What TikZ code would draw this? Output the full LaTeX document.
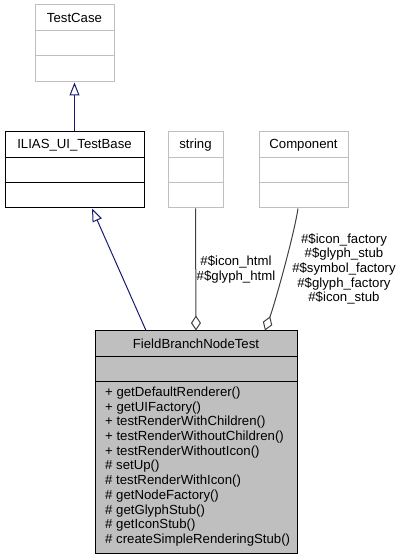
\documentclass[tikz,border=0pt]{standalone}
\usepackage{fontspec}
\setmainfont{Liberation Sans}
\usetikzlibrary{arrows.meta,calc}
\definecolor{lightframe}{HTML}{BFBFBF}
\definecolor{boxfill}{HTML}{BFBFBF}
\definecolor{inherit}{HTML}{191970}
\definecolor{usage}{HTML}{404040}
\begin{document}
\begin{tikzpicture}[x=1pt,y=1pt,
  font=\fontsize{13.2}{14.7}\selectfont,
  cls/.style={rectangle, inner sep=0pt, line width=1pt},
  ghost/.style={cls, draw=lightframe},
  solid/.style={cls, draw=black},
  main/.style={cls, draw=black, fill=boxfill},
  title/.style={inner sep=0pt, anchor=center},
  member/.style={inner sep=0pt, anchor=west},
  lbl/.style={inner sep=0pt, align=center, font=\fontsize{13.2}{14.6}\selectfont},
  inh/.style={draw=inherit, line width=1pt, -{Triangle[open, length=13pt, width=10pt, line width=1pt]}},
  agg/.style={draw=usage, line width=1pt, -{Diamond[open, length=15pt, width=10pt, line width=1pt]}},
]
\useasboundingbox (0,0) rectangle (403,560);

% classes
\node[ghost, minimum width=79pt, minimum height=77pt] (tc) at (74.5,516.5) {};
\node[solid, minimum width=139pt, minimum height=76pt] (ilias) at (74.5,390) {};
\node[ghost, minimum width=55pt, minimum height=76pt] (str) at (195.5,390) {};
\node[ghost, minimum width=89pt, minimum height=76pt] (comp) at (303.5,390) {};
\node[main, minimum width=202pt, minimum height=223pt] (fb) at (196,117.5) {};

% dividers
\draw[lightframe, line width=1pt] (tc.west |- 0,529) -- (tc.east |- 0,529);
\draw[lightframe, line width=1pt] (tc.west |- 0,504) -- (tc.east |- 0,504);
\draw[black, line width=1pt] (ilias.west |- 0,402) -- (ilias.east |- 0,402);
\draw[black, line width=1pt] (ilias.west |- 0,377) -- (ilias.east |- 0,377);
\draw[lightframe, line width=1pt] (str.west |- 0,402) -- (str.east |- 0,402);
\draw[lightframe, line width=1pt] (str.west |- 0,377) -- (str.east |- 0,377);
\draw[lightframe, line width=1pt] (comp.west |- 0,402) -- (comp.east |- 0,402);
\draw[lightframe, line width=1pt] (comp.west |- 0,377) -- (comp.east |- 0,377);
\draw[black, line width=1pt] (fb.west |- 0,203) -- (fb.east |- 0,203);
\draw[black, line width=1pt] (fb.west |- 0,178) -- (fb.east |- 0,178);

% titles
\node[title] (tct) at (74.5,542) {TestCase};
\node[title] (iliast) at (74.5,415) {ILIAS\_UI\_TestBase};
\node[title] (strt) at (195.5,415) {string};
\node[title] (compt) at (303.5,415) {Component};
\node[title] (fbt) at (196,216) {FieldBranchNodeTest};

% members
\node[member] (m1) at (105,167.0) {+ getDefaultRenderer()};
\node[member] (m2) at (105,152.3) {+ getUIFactory()};
\node[member] (m3) at (105,137.6) {+ testRenderWithChildren()};
\node[member] (m4) at (105,122.9) {+ testRenderWithoutChildren()};
\node[member] (m5) at (105,108.2) {+ testRenderWithoutIcon()};
\node[member] (m6) at (105,93.5) {\# setUp()};
\node[member] (m7) at (105,78.8) {\# testRenderWithIcon()};
\node[member] (m8) at (105,64.1) {\# getNodeFactory()};
\node[member] (m9) at (105,49.4) {\# getGlyphStub()};
\node[member] (m10) at (105,34.7) {\# getIconStub()};
\node[member] (m11) at (105,20.0) {\# createSimpleRenderingStub()};

% inheritance
\draw[inh] (ilias.north) -- (tc.south);
\draw[inh] ([xshift=-50pt]fb.north) -- ([xshift=17.5pt]ilias.south);

% usage
\draw[agg] (str.south) -- (fb.north);
\draw[agg] ([xshift=-5.5pt]comp.south) .. controls (294,325) and (275,257) .. ([xshift=69pt]fb.north);

% labels
\node[lbl] (l1) at (236,290.5) {\#\$icon\_html\\\#\$glyph\_html};
\node[lbl] (l2) at (344,291) {\#\$icon\_factory\\\#\$glyph\_stub\\\#\$symbol\_factory\\\#\$glyph\_factory\\\#\$icon\_stub};
\end{tikzpicture}
\end{document}
